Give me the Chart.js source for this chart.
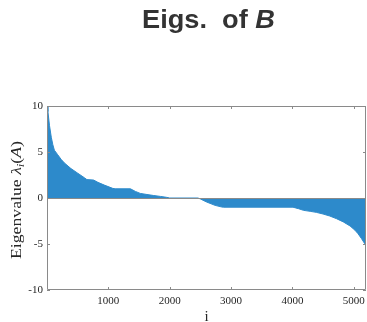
<!DOCTYPE html>
<html>
<head>
<meta charset="utf-8">
<script src="https://cdn.jsdelivr.net/npm/chart.js@4/dist/chart.umd.min.js"></script>
<style>
  html, body { margin: 0; padding: 0; background: #fff; }
  #wrap { width: 367px; height: 322px; }
</style>
</head>
<body>
<div id="wrap"><canvas id="mycanvas" width="367" height="322"></canvas></div>
<script>
// eigenvalue index (i) and value
var idx = [1, 15, 40, 70, 95, 120, 175, 230, 285, 390, 500, 610, 650, 760, 830, 935,
           1070, 1110, 1360, 1440, 1520, 1630, 1740, 1850, 1950, 2000, 2460, 2500,
           2600, 2740, 2850, 2880, 4010, 4100, 4180, 4290, 4390, 4500, 4610, 4720,
           4830, 4940, 5020, 5070, 5125, 5180, 5200];
var eigs = [10, 9.4, 7.9, 6.6, 5.8, 5.2, 4.7, 4.2, 3.8, 3.2, 2.7, 2.2, 2.0, 1.95, 1.7, 1.4,
            1.05, 1.0, 1.0, 0.72, 0.5, 0.38, 0.27, 0.17, 0.07, 0, 0, -0.1,
            -0.43, -0.8, -0.98, -1.0, -1.0, -1.16, -1.34, -1.45, -1.56, -1.74, -1.96, -2.25,
            -2.6, -3.04, -3.5, -3.88, -4.4, -4.97, -5.1];
var xTicks = [1000, 2000, 3000, 4000, 5000];
var yTicks = [-10, -5, 0, 5, 10];

var points = [];
for (var k = 0; k < idx.length; k++) {
  points.push({x: idx[k], y: eigs[k]});
}

var axisGray = '#8a8a8a';
var textColor = '#262626';

// draw a run of [text, font, dy] pieces squeezed/stretched to a given width
function drawRun(c, parts, x, y, width) {
  var total = 0;
  parts.forEach(function(p) { c.font = p[1]; p.w = c.measureText(p[0]).width; total += p.w; });
  c.save();
  c.translate(x, y);
  c.scale(width / total, 1);
  var px = 0;
  parts.forEach(function(p) {
    c.font = p[1];
    c.fillText(p[0], px, p[2]);
    px += p.w;
  });
  c.restore();
}

// box, inward ticks, zero baseline and the mixed-font labels
var decor = {
  id: 'decor',
  afterDraw: function(chart) {
    var c = chart.ctx, a = chart.chartArea;
    var xs = chart.scales.x, ys = chart.scales.y;
    c.save();
    c.strokeStyle = axisGray;
    c.lineWidth = 1;
    c.beginPath();
    c.rect(a.left + 0.5, a.top + 0.5, a.right - a.left - 1, a.bottom - a.top - 1);
    var y0 = Math.round(ys.getPixelForValue(0)) + 0.5;
    c.moveTo(a.left, y0); c.lineTo(a.right, y0);
    xTicks.forEach(function(v) {
      var px = Math.round(xs.getPixelForValue(v)) + 0.5;
      c.moveTo(px, a.bottom); c.lineTo(px, a.bottom - 3);
      c.moveTo(px, a.top); c.lineTo(px, a.top + 3);
    });
    yTicks.forEach(function(v) {
      var py = Math.round(ys.getPixelForValue(v)) + 0.5;
      c.moveTo(a.left, py); c.lineTo(a.left + 3, py);
      c.moveTo(a.right, py); c.lineTo(a.right - 3, py);
    });
    c.stroke();

    // title
    c.fillStyle = '#333';
    c.textBaseline = 'alphabetic';
    c.textAlign = 'left';
    drawRun(c, [
      ['Eigs.  of ', 'bold 26px "Liberation Sans"', 0],
      ['B', 'italic bold 26px "Liberation Sans"', 0]
    ], 142, 28, 133);

    // x label
    c.fillStyle = textColor;
    c.font = '15px "Liberation Serif"';
    c.textAlign = 'center';
    c.fillText('i', (a.left + a.right) / 2, 321);

    // y label: Eigenvalue λ_i(A)
    c.textAlign = 'left';
    c.save();
    c.translate(21, (a.top + a.bottom) / 2 + 2);
    c.rotate(-Math.PI / 2);
    drawRun(c, [
      ['Eigenvalue ', '14px "Liberation Serif"', 0],
      ['\u03bb', 'italic 14px "Liberation Serif"', 0],
      ['i', 'italic 10px "Liberation Serif"', 3],
      ['(', '14px "Liberation Serif"', 0],
      ['A', 'italic 14px "Liberation Serif"', 0],
      [')', '14px "Liberation Serif"', 0]
    ], -59, 0, 118);
    c.restore();
    c.restore();
  }
};

var ctx = document.getElementById('mycanvas');
var chart = new Chart(ctx, {
  type: 'line',
  data: {
    datasets: [{
      data: points,
      backgroundColor: '#2d8acb',
      borderColor: '#2d8acb',
      borderWidth: 1,
      pointRadius: 0,
      fill: 'origin',
      tension: 0
    }]
  },
  options: {
    responsive: false,
    animation: false,
    events: [],
    layout: { padding: { top: 106, right: 1, left: 0, bottom: 0 } },
    plugins: { legend: { display: false }, tooltip: { enabled: false } },
    scales: {
      x: {
        type: 'linear',
        min: 0, max: 5200,
        grid: { display: false, drawTicks: false },
        border: { display: false },
        afterBuildTicks: function(s) { s.ticks = xTicks.map(function(v) { return {value: v}; }); },
        afterFit: function(s) { s.height = 32; s.paddingLeft = 0; s.paddingRight = 0; },
        ticks: {
          color: textColor, padding: 5, maxRotation: 0,
          font: { family: 'Liberation Serif', size: 11 },
          callback: function(v) { return String(v); }
        }
      },
      y: {
        min: -10, max: 10,
        grid: { display: false, drawTicks: false },
        border: { display: false },
        afterBuildTicks: function(s) { s.ticks = yTicks.map(function(v) { return {value: v}; }); },
        afterFit: function(s) { s.width = 47; s.paddingTop = 0; s.paddingBottom = 0; },
        ticks: {
          color: textColor, padding: 4,
          font: { family: 'Liberation Serif', size: 11 },
          callback: function(v) { return String(v); }
        }
      }
    }
  },
  plugins: [decor]
});
</script>
</body>
</html>
